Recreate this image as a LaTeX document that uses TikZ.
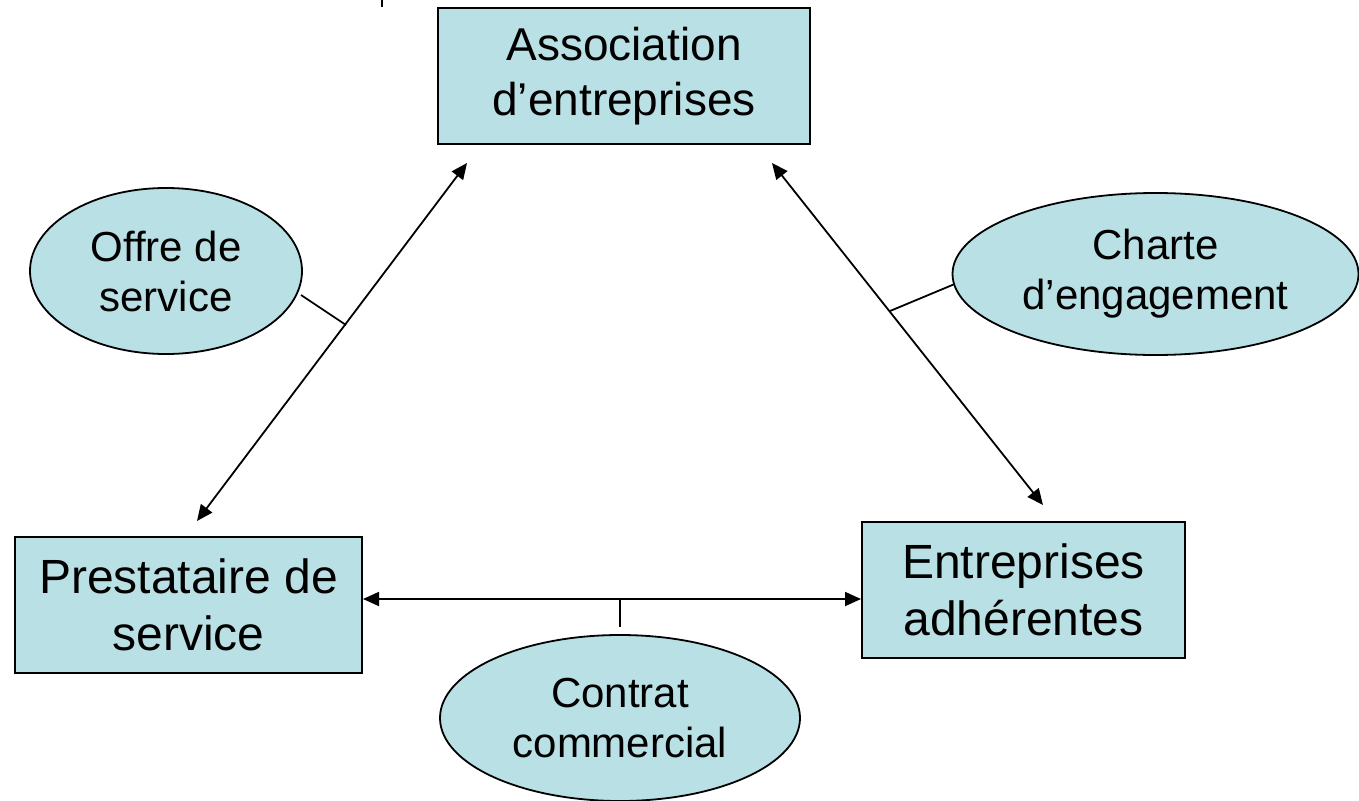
\documentclass[tikz,border=0pt]{standalone}
\usepackage{fontspec}
\setmainfont{Liberation Sans}
\usetikzlibrary{arrows.meta,shapes.geometric}
\definecolor{boxfill}{RGB}{185,224,228}
\tikzset{
  boxnode/.style={draw=black, line width=2pt, fill=boxfill, rectangle, inner sep=0pt,
    align=center, font=\fontsize{46}{55}\selectfont},
  bigbox/.style={boxnode, font=\fontsize{48}{57}\selectfont},
  ellnode/.style={draw=black, line width=1.8pt, fill=boxfill, ellipse, inner sep=0pt,
    align=center, font=\fontsize{42}{50}\selectfont},
  dbl/.style={line width=1.8pt, {Triangle[length=16pt,width=14pt]}-{Triangle[length=16pt,width=14pt]}},
  tick/.style={line width=1.8pt}
}
\begin{document}
\begin{tikzpicture}[x=1pt,y=-1pt]
\useasboundingbox (0,0) rectangle (1359,800);
\node[boxnode, minimum width=372pt, minimum height=136pt] (assoc) at (624,76) {Association\\d’entreprises};
\node[bigbox, minimum width=347pt, minimum height=136pt] (prest) at (188.5,605) {Prestataire de\\service};
\node[bigbox, minimum width=323pt, minimum height=136pt] (entre) at (1023.5,590) {Entreprises\\adhérentes};
\node[ellnode, minimum width=272pt, minimum height=166pt] (offre) at (166,271) {Offre de\\service};
\node[ellnode, minimum width=406pt, minimum height=162pt] (charte) at (1155.5,274) {Charte\\d’engagement};
\node[ellnode, minimum width=360pt, minimum height=166pt] (contrat) at (620,718) {Contrat\\commercial};
\coordinate (a1) at (467,163);
\coordinate (a2) at (197,521);
\coordinate (b1) at (772,163);
\coordinate (b2) at (1043,505);
\coordinate (t0) at (301,295);
\coordinate (t1) at (346,325);
\coordinate (t2) at (890,311);
\coordinate (t3) at (620,599);
\draw[dbl] (a2) -- (a1);
\draw[dbl] (b1) -- (b2);
\draw[dbl] ([yshift=6pt]prest.east) -- ([yshift=-9pt]entre.west);
\draw[tick] (t0) -- (t1);
\draw[tick] (charte.183) -- (t2);
\draw[tick] (t3) -- ([yshift=7pt]contrat.north);
\coordinate (m1) at (382,0);
\coordinate (m2) at (382,7);
\draw[line width=2pt] (m1) -- (m2);
\end{tikzpicture}
\end{document}
